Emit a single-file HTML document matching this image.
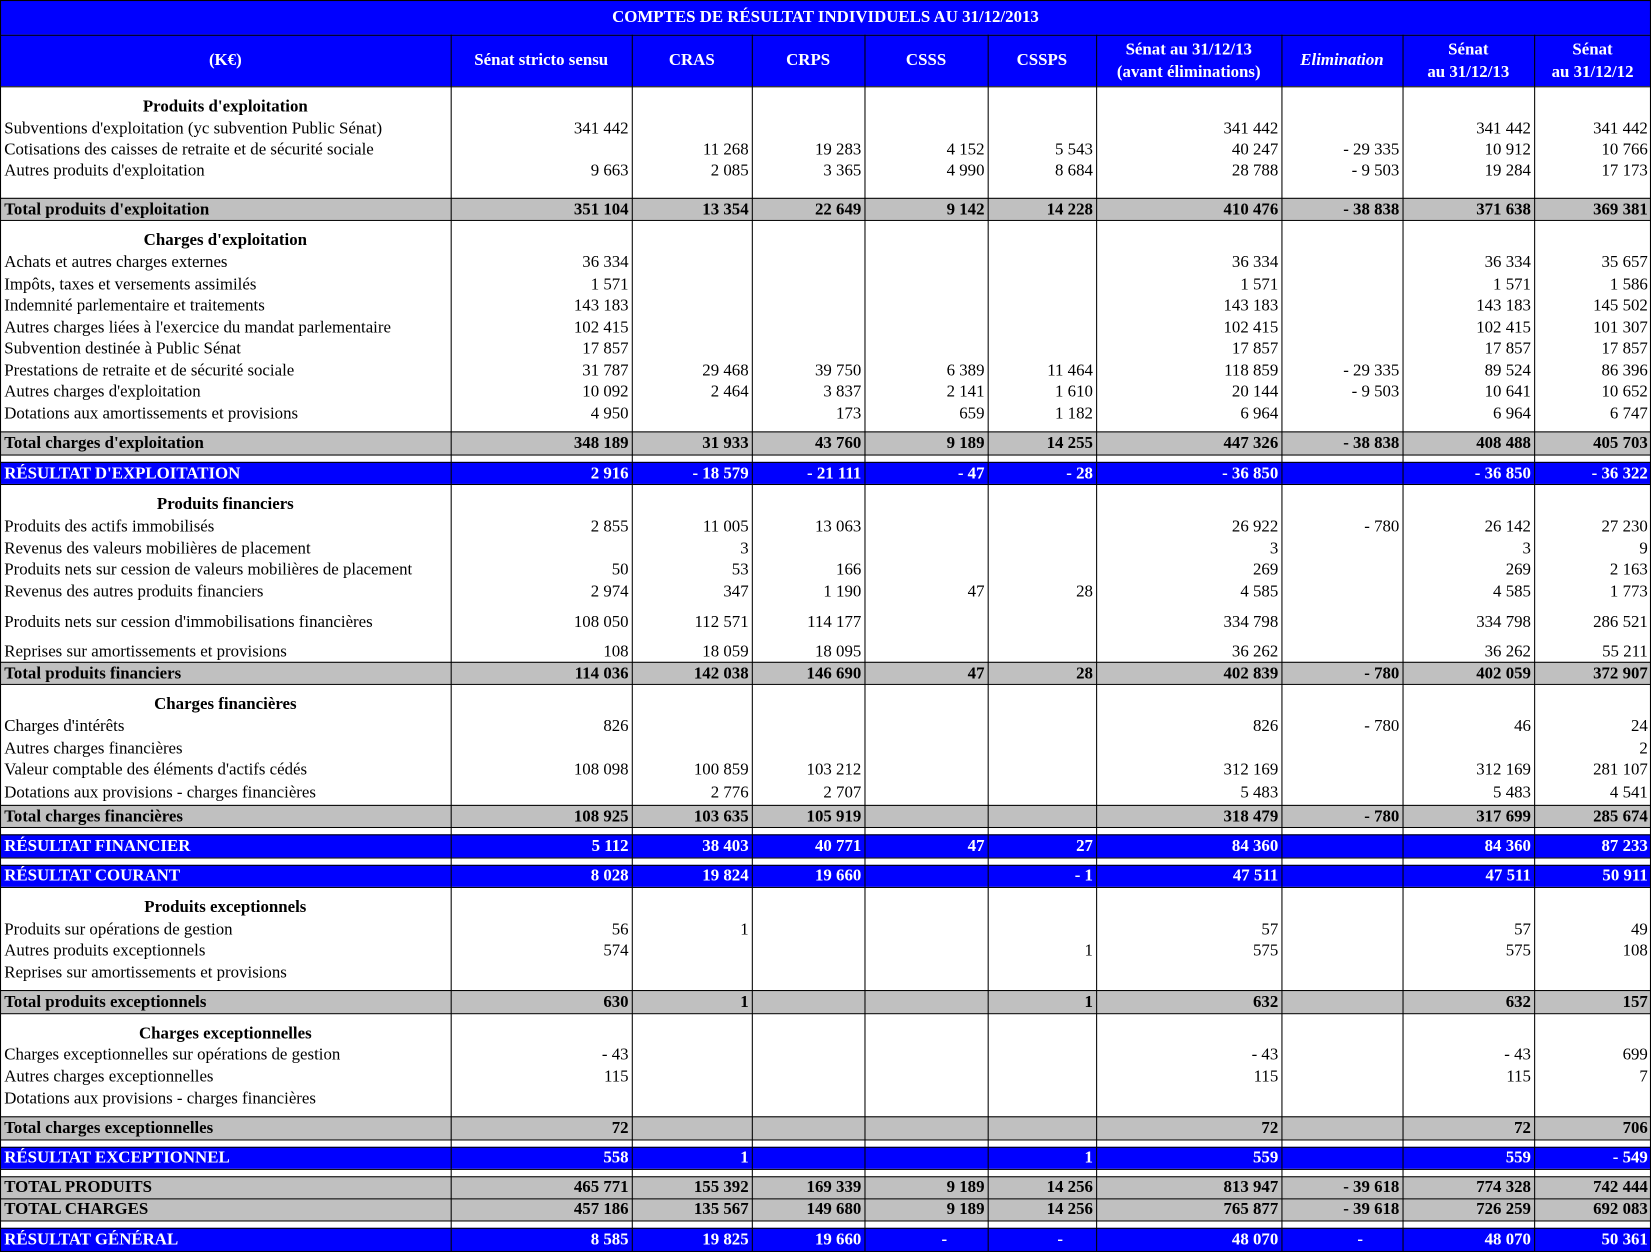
<!DOCTYPE html>
<html><head><meta charset="utf-8">
<style>
html,body{margin:0;padding:0;background:#fff;}
body{width:1651px;height:1252px;overflow:hidden;position:relative;}
#wrap{position:absolute;left:0;top:0;width:1568px;height:1190px;transform-origin:0 0;transform:scale(1.05293,1.0521);font-family:"Liberation Serif","DejaVu Serif",serif;font-size:16px;color:#000;}
.band{position:absolute;left:0;width:1568px;}
.vl{position:absolute;width:1px;background:#000;}
.hl{position:absolute;left:0;width:1568px;height:1px;background:#000;}
.t{position:absolute;height:20px;line-height:20px;white-space:nowrap;}
.hd{position:absolute;color:#fff;font-weight:bold;text-align:center;display:flex;align-items:center;justify-content:center;line-height:21px;font-size:16px;}
</style></head><body>
<div id="wrap"></div>
<script>
const cols=[0,428,600,714,821,938,1041,1217,1332,1457,1568];
const headers=["(K€)","Sénat stricto sensu","CRAS","CRPS","CSSS","CSSPS","Sénat au 31/12/13<br>(avant éliminations)","<i>Elimination</i>","Sénat<br>au 31/12/13","Sénat<br>au 31/12/12"];
const bands=[[0,33,'#0000ff'],[33,82,'#0000ff'],[82,188,'#fff'],[188,209,'#c0c0c0'],[209,410,'#fff'],[410,432,'#c0c0c0'],[432,439,'#fff'],[439,460,'#0000ff'],[460,629,'#fff'],[629,650,'#c0c0c0'],[650,765,'#fff'],[765,786,'#c0c0c0'],[786,793,'#fff'],[793,815,'#0000ff'],[815,822,'#fff'],[822,843,'#0000ff'],[843,941,'#fff'],[941,963,'#c0c0c0'],[963,1061,'#fff'],[1061,1083,'#c0c0c0'],[1083,1090,'#fff'],[1090,1111,'#0000ff'],[1111,1118,'#fff'],[1118,1139,'#c0c0c0'],[1139,1160,'#c0c0c0'],[1160,1167,'#fff'],[1167,1190,'#0000ff']];
const lines=[
[101,"Produits d'exploitation","h",[]],
[122,"Subventions d'exploitation (yc subvention Public Sénat)","n",["341 442","","","","","341 442","","341 442","341 442"]],
[142,"Cotisations des caisses de retraite et de sécurité sociale","n",["","11 268","19 283","4 152","5 543","40 247","- 29 335","10 912","10 766"]],
[162,"Autres produits d'exploitation","n",["9 663","2 085","3 365","4 990","8 684","28 788","- 9 503","19 284","17 173"]],
[199,"Total produits d'exploitation","b",["351 104","13 354","22 649","9 142","14 228","410 476","- 38 838","371 638","369 381"]],
[228,"Charges d'exploitation","h",[]],
[249,"Achats et autres charges externes","n",["36 334","","","","","36 334","","36 334","35 657"]],
[270,"Impôts, taxes et versements assimilés","n",["1 571","","","","","1 571","","1 571","1 586"]],
[290,"Indemnité parlementaire et traitements","n",["143 183","","","","","143 183","","143 183","145 502"]],
[311,"Autres charges liées à l'exercice du mandat parlementaire","n",["102 415","","","","","102 415","","102 415","101 307"]],
[331,"Subvention destinée à Public Sénat","n",["17 857","","","","","17 857","","17 857","17 857"]],
[352,"Prestations de retraite et de sécurité sociale","n",["31 787","29 468","39 750","6 389","11 464","118 859","- 29 335","89 524","86 396"]],
[372,"Autres charges d'exploitation","n",["10 092","2 464","3 837","2 141","1 610","20 144","- 9 503","10 641","10 652"]],
[393,"Dotations aux amortissements et provisions","n",["4 950","","173","659","1 182","6 964","","6 964","6 747"]],
[421,"Total charges d'exploitation","b",["348 189","31 933","43 760","9 189","14 255","447 326","- 38 838","408 488","405 703"]],
[450,"RÉSULTAT D'EXPLOITATION","w",["2 916","- 18 579","- 21 111","- 47","- 28","- 36 850","","- 36 850","- 36 322"]],
[479,"Produits financiers","h",[]],
[500,"Produits des actifs immobilisés","n",["2 855","11 005","13 063","","","26 922","- 780","26 142","27 230"]],
[521,"Revenus des valeurs mobilières de placement","n",["","3","","","","3","","3","9"]],
[541,"Produits nets sur cession de valeurs mobilières de placement","n",["50","53","166","","","269","","269","2 163"]],
[562,"Revenus des autres produits financiers","n",["2 974","347","1 190","47","28","4 585","","4 585","1 773"]],
[591,"Produits nets sur cession d'immobilisations financières","n",["108 050","112 571","114 177","","","334 798","","334 798","286 521"]],
[619,"Reprises sur amortissements et provisions","n",["108","18 059","18 095","","","36 262","","36 262","55 211"]],
[640,"Total produits financiers","b",["114 036","142 038","146 690","47","28","402 839","- 780","402 059","372 907"]],
[669,"Charges financières","h",[]],
[690,"Charges d'intérêts","n",["826","","","","","826","- 780","46","24"]],
[711,"Autres charges financières","n",["","","","","","","","","2"]],
[731,"Valeur comptable des éléments d'actifs cédés","n",["108 098","100 859","103 212","","","312 169","","312 169","281 107"]],
[753,"Dotations aux  provisions - charges financières","n",["","2 776","2 707","","","5 483","","5 483","4 541"]],
[776,"Total charges financières","b",["108 925","103 635","105 919","","","318 479","- 780","317 699","285 674"]],
[804,"RÉSULTAT FINANCIER","w",["5 112","38 403","40 771","47","27","84 360","","84 360","87 233"]],
[832,"RÉSULTAT COURANT","w",["8 028","19 824","19 660","","- 1","47 511","","47 511","50 911"]],
[862,"Produits exceptionnels","h",[]],
[883,"Produits sur opérations de gestion","n",["56","1","","","","57","","57","49"]],
[903,"Autres produits exceptionnels","n",["574","","","","1","575","","575","108"]],
[924,"Reprises sur amortissements et provisions","n",[]],
[952,"Total produits exceptionnels","b",["630","1","","","1","632","","632","157"]],
[982,"Charges exceptionnelles","h",[]],
[1002,"Charges exceptionnelles sur opérations de gestion","n",["- 43","","","","","- 43","","- 43","699"]],
[1023,"Autres charges exceptionnelles","n",["115","","","","","115","","115","7"]],
[1044,"Dotations aux  provisions - charges financières","n",[]],
[1072,"Total charges exceptionnelles","b",["72","","","","","72","","72","706"]],
[1100,"RÉSULTAT EXCEPTIONNEL","w",["558","1","","","1","559","","559","- 549"]],
[1128,"TOTAL PRODUITS","b",["465 771","155 392","169 339","9 189","14 256","813 947","- 39 618","774 328","742 444"]],
[1149,"TOTAL CHARGES","b",["457 186","135 567","149 680","9 189","14 256","765 877","- 39 618","726 259","692 083"]],
[1178,"RÉSULTAT GÉNÉRAL","w",["8 585","19 825","19 660","-","-","48 070","-","48 070","50 361"]]
];
const W=document.getElementById('wrap');
function mk(cls,css){const d=document.createElement('div');d.className=cls;Object.assign(d.style,css);W.appendChild(d);return d;}
bands.forEach((b,i)=>{
 const d=mk('band',{top:b[0]+'px',height:(b[1]-b[0])+'px',background:b[2]});
 
 
 const h=mk('hl',{top:b[0]+'px'});
 
 
});
mk('hl',{top:'1189px'});
cols.forEach((x,i)=>{
 const left=i===cols.length-1?x-1:x;
 const v=mk('vl',{left:left+'px',top:(i===0||i===cols.length-1?0:33)+'px',height:(i===0||i===cols.length-1?1190:1157)+'px'});
 
 
});
const tt=mk('hd',{left:'0px',top:'0px',width:'1568px',height:'33px'});
tt.innerHTML="COMPTES DE RÉSULTAT INDIVIDUELS AU 31/12/2013";


headers.forEach((h,i)=>{
 const d=mk('hd',{left:cols[i]+'px',top:'33px',width:(cols[i+1]-cols[i])+'px',height:'49px'});
 d.innerHTML=h;
 
 
});
lines.forEach(l=>{
 const [y,label,st,vals]=l;
 const bold=st!=='n';
 const col=st==='w'?'#fff':'#000';
 const lab=mk('t',{top:(y-9)+'px',left:(st==='h'?0:4)+'px',width:(st==='h'?'428px':'auto'),textAlign:st==='h'?'center':'left',fontWeight:bold?'bold':'normal',color:col});
 lab.textContent=label;
 
 
 vals.forEach((v,j)=>{
  if(!v)return;
  const c=j+1;
  const pr=v==='-'?((cols[c+1]-cols[c])/2-20):3;
  const d=mk('t',{top:(y-9)+'px',left:cols[c]+'px',width:(cols[c+1]-cols[c]-pr)+'px',textAlign:'right',fontWeight:bold?'bold':'normal',color:col});
  d.textContent=v;
  
  
 });
});
</script>
</body></html>
